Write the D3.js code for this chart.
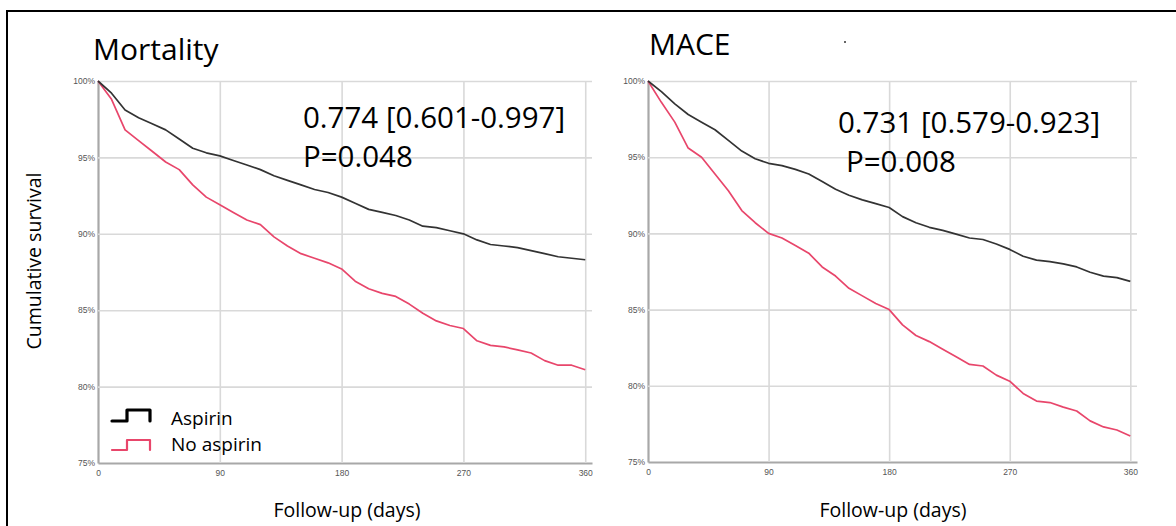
<!DOCTYPE html>
<html>
<head>
<meta charset="utf-8">
<script src="https://cdn.jsdelivr.net/npm/d3@7"></script>
<style>
  body { margin: 0; background: #fff; }
  svg { display: block; }
</style>
</head>
<body>
<svg id="chart" width="1176" height="526"></svg>
<script>
var days = [0, 10, 20, 30, 40, 50, 60, 70, 80, 90, 100, 110, 120, 130, 140, 150, 160, 170, 180,
            190, 200, 210, 220, 230, 240, 250, 260, 270, 280, 290, 300, 310, 320, 330, 340, 350, 360];

// Mortality panel, cumulative survival in %
var mortAspirin = [100, 99.2, 98.1, 97.6, 97.2, 96.8, 96.2, 95.6, 95.3, 95.1, 94.8, 94.5, 94.2, 93.8, 93.5, 93.2, 92.9, 92.7, 92.4,
                   92.0, 91.6, 91.4, 91.2, 90.9, 90.5, 90.4, 90.2, 90.0, 89.6, 89.3, 89.2, 89.1, 88.9, 88.7, 88.5, 88.4, 88.3];
var mortNoAspirin = [100, 98.8, 96.8, 96.1, 95.4, 94.7, 94.2, 93.2, 92.4, 91.9, 91.4, 90.9, 90.6, 89.8, 89.2, 88.7, 88.4, 88.1, 87.7,
                     86.9, 86.4, 86.1, 85.9, 85.4, 84.8, 84.3, 84.0, 83.8, 83.0, 82.7, 82.6, 82.4, 82.2, 81.7, 81.4, 81.4, 81.1];

// MACE panel
var maceAspirin = [100, 99.3, 98.5, 97.8, 97.3, 96.8, 96.1, 95.4, 94.9, 94.6, 94.45, 94.2, 93.9, 93.4, 92.9, 92.5, 92.2, 91.95, 91.7,
                   91.1, 90.7, 90.4, 90.2, 89.95, 89.7, 89.6, 89.3, 88.95, 88.5, 88.25, 88.15, 88.0, 87.8, 87.45, 87.2, 87.1, 86.85];
var maceNoAspirin = [100, 98.6, 97.3, 95.6, 95.0, 93.9, 92.8, 91.5, 90.7, 90.0, 89.7, 89.2, 88.7, 87.8, 87.2, 86.4, 85.9, 85.4, 85.0,
                     84.0, 83.3, 82.9, 82.4, 81.9, 81.4, 81.3, 80.7, 80.3, 79.5, 79.0, 78.9, 78.6, 78.35, 77.7, 77.3, 77.1, 76.7];

var xTicks = [0, 90, 180, 270, 360];
var yTicks = [75, 80, 85, 90, 95, 100];
var seriesNames = ["Aspirin", "No aspirin"];
var colors = ["#333333", "#e8466b"];

var bigFont = "Open Sans, sans-serif";
var svg = d3.select("#chart");

// outer frame (runs off the right and bottom edge)
svg.append("rect")
   .attr("x", 7).attr("y", 11)
   .attr("width", 1200).attr("height", 540)
   .attr("fill", "none")
   .attr("stroke", "#000")
   .attr("stroke-width", 2);

function drawPanel(box, title, titlePos, hr, hrPos, pText, pPos, aspirin, noAspirin, xLabelX) {
    var g = svg.append("g");

    var x = d3.scaleLinear().domain([0, 365]).range([box.x0, box.x1]);
    var y = d3.scaleLinear().domain([75, 100]).range([box.y1, box.y0]);

    //grid + y tick labels
    var yAx = g.append("g")
               .attr("transform", "translate(" + box.x0 + ",0)")
               .call(d3.axisLeft(y).tickValues(yTicks)
                       .tickSize(-(box.x1 - box.x0)).tickSizeOuter(0)
                       .tickPadding(3).tickFormat(function(d) { return d + "%"; }));
    var xAx = g.append("g")
               .attr("transform", "translate(0," + box.y1 + ")")
               .call(d3.axisBottom(x).tickValues(xTicks)
                       .tickSize(-(box.y1 - box.y0)).tickSizeOuter(0)
                       .tickPadding(7));

    [yAx, xAx].forEach(function(ax) {
        ax.selectAll(".tick line").attr("stroke", "#d9d9d9").attr("stroke-width", 1.6);
        ax.selectAll(".tick text")
          .attr("fill", "#555")
          .attr("font-family", "Liberation Sans, Arial, sans-serif")
          .attr("font-size", 8.5);
        ax.select(".domain").attr("stroke", "#a8a8a8").attr("stroke-width", 2.2);
    });
    // the 0 day / 75% ticks sit on the axes themselves
    xAx.selectAll(".tick").filter(function(d) { return d === 0; }).select("line").remove();
    yAx.selectAll(".tick").filter(function(d) { return d === 75; }).select("line").remove();
    yAx.raise();
    xAx.raise();

    var line = d3.line()
                 .x(function(d) { return x(d[0]); })
                 .y(function(d) { return y(d[1]); })
                 .curve(d3.curveLinear);

    [noAspirin, aspirin].forEach(function(vals, i) {
        g.append("path")
         .datum(d3.zip(days, vals))
         .attr("fill", "none")
         .attr("stroke", i === 0 ? colors[1] : colors[0])
         .attr("stroke-width", 1.7)
         .attr("stroke-linejoin", "round")
         .attr("d", line);
    });

    //titles and hazard ratio
    g.append("text")
     .attr("x", titlePos[0]).attr("y", titlePos[1])
     .attr("font-family", bigFont)
     .attr("font-size", 30)
     .attr("fill", "#000")
     .text(title);

    g.append("text")
     .attr("x", hrPos[0]).attr("y", hrPos[1])
     .attr("font-family", bigFont)
     .attr("font-size", 29.5)
     .attr("fill", "#000")
     .text(hr);

    g.append("text")
     .attr("x", pPos[0]).attr("y", pPos[1])
     .attr("font-family", bigFont)
     .attr("font-size", 29.5)
     .attr("fill", "#000")
     .text(pText);

    g.append("text")
     .attr("x", xLabelX).attr("y", 517)
     .attr("text-anchor", "middle")
     .attr("font-family", bigFont)
     .attr("font-size", 19.5)
     .attr("fill", "#000")
     .text("Follow-up (days)");

    return g;
}

var left = drawPanel({x0: 98, x1: 592, y0: 81, y1: 463},
                     "Mortality", [93, 60],
                     "0.774 [0.601-0.997]", [303, 128],
                     "P=0.048", [303, 167],
                     mortAspirin, mortNoAspirin, 347);

var right = drawPanel({x0: 648, x1: 1137, y0: 81, y1: 462},
                      "MACE", [649, 55],
                      "0.731 [0.579-0.923]", [838, 133],
                      "P=0.008", [846, 172],
                      maceAspirin, maceNoAspirin, 893);

// stray dot next to the MACE title
svg.append("circle").attr("cx", 845).attr("cy", 42).attr("r", 1).attr("fill", "#333");

// y axis title
svg.append("text")
   .attr("transform", "translate(41,261)rotate(-90)")
   .attr("text-anchor", "middle")
   .attr("font-family", bigFont)
   .attr("font-size", 19.5)
   .attr("fill", "#000")
   .text("Cumulative survival");

// legend with little step symbols
var legend = svg.append("g").attr("transform", "translate(112,0)");
seriesNames.forEach(function(name, i) {
    var yLow = i === 0 ? 421 : 450;
    var yHigh = i === 0 ? 410 : 440;
    var p = d3.path();
    p.moveTo(0, yLow);
    p.lineTo(15, yLow);
    p.lineTo(15, yHigh);
    p.lineTo(38, yHigh);
    p.lineTo(38, yLow);
    legend.append("path")
          .attr("d", p.toString())
          .attr("fill", "none")
          .attr("stroke", colors[i] === "#333333" ? "#000" : colors[i])
          .attr("stroke-width", i === 0 ? 3.2 : 2.2)
          .attr("stroke-linecap", "round")
          .attr("stroke-linejoin", "round");
    legend.append("text")
          .attr("x", 59).attr("y", i === 0 ? 425 : 451)
          .attr("font-family", bigFont)
          .attr("font-size", 19)
          .attr("fill", "#000")
          .text(name);
});
</script>
</body>
</html>
